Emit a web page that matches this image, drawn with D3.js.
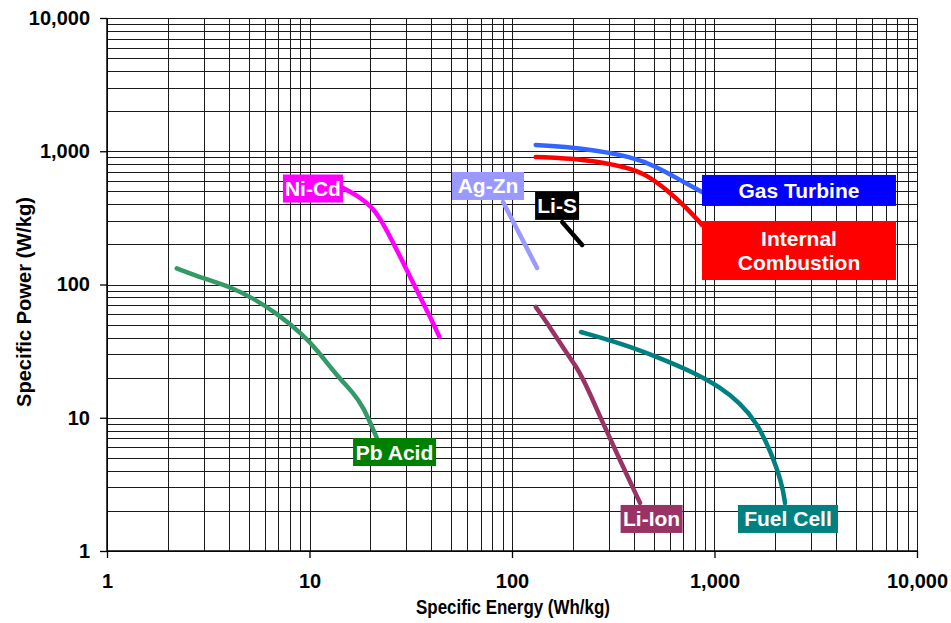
<!DOCTYPE html>
<html>
<head>
<meta charset="utf-8">
<script src="https://cdn.jsdelivr.net/npm/d3@7"></script>
<style>
  body { margin: 0; background: #fff; }
  svg { font-family: Arial, "Liberation Sans", sans-serif; }
  .axis text { font-size: 20px; font-weight: bold; fill: #000; }
  .axis path, .axis line { stroke: #000; stroke-width: 1.3; }
  .grid line { stroke: #1a1a1a; stroke-width: 1; shape-rendering: crispEdges; }
  .axis-title { font-size: 20px; font-weight: bold; fill: #000; }
  .tag text { font-size: 21px; font-weight: bold; fill: #fff; }
</style>
</head>
<body>
<svg width="951" height="623"></svg>
<script>
// **** Data ****

// Pb Acid
var pbAcidEnergy = [2.21, 2.99, 4.05, 5.28, 6.89, 9.32, 10.9, 13.6, 16.5, 18.4, 20.7, 21.9];
var pbAcidPower  = [132, 111, 96.3, 78.7, 60.8, 41.8, 32.2, 20.9, 15.3, 12.1, 8.09, 6.61];

// Ni-Cd
var niCdEnergy = [14.4, 17.1, 20.3, 22.3, 25.0, 29.7, 35.1, 39.4, 43.8];
var niCdPower  = [536, 470, 384, 314, 229, 136, 80.9, 57.3, 40.6];

// Ag-Zn
var agZnEnergy = [90.3, 133];
var agZnPower  = [416, 133];

// Li-S
var liSEnergy = [177, 222];
var liSPower  = [294, 198];

// Gas Turbine
var gasTurbineEnergy = [131, 224, 396, 520, 676, 868];
var gasTurbinePower  = [1114, 1058, 905, 762, 608, 495];

// Internal Combustion
var combustionEnergy = [131, 224, 370, 464, 583, 731, 868];
var combustionPower  = [905, 875, 762, 664, 512, 375, 280];

// Li-Ion
var liIonEnergy = [131, 154, 179, 209, 235, 281, 341, 429];
var liIonPower  = [67.8, 48.0, 33.3, 24.0, 17.0, 9.14, 4.82, 2.29];

// Fuel Cell
var fuelCellEnergy = [219, 341, 538, 783, 1065, 1337, 1622, 1880, 2154, 2230];
var fuelCellPower  = [44.0, 36.4, 28.1, 22.0, 17.0, 12.9, 9.14, 5.73, 3.24, 2.29];

// Tags: text lines and the point (energy, power) each tag is centred on
var tagNames  = ["Pb Acid", "Ni-Cd", "Ag-Zn", "Li-S", "Gas Turbine", "Internal|Combustion", "Li-Ion", "Fuel Cell"];
var tagEnergy = [26.3, 10.4, 76.1, 167, 2613, 2613, 489, 2306];
var tagPower  = [5.53, 525, 549, 389, 508, 180, 1.74, 1.74];

var tickValues = [1, 10, 100, 1000, 10000];

// **** Styles ****
var lineColors = ["#339966", "#ff00ff", "#9999ff", "#000000", "#3366ff", "#ff0000", "#993366", "#008080"];
var tagColors  = ["#008000", "#ff00ff", "#9999ff", "#000000", "#0000ff", "#ff0000", "#993366", "#008080"];
var tagWidths  = [83, 60, 72, 44, 194, 194, 62, 100];
var tagHeights = [28, 28, 28, 28, 31, 59, 28, 28];

var series = [
    [pbAcidEnergy, pbAcidPower],
    [niCdEnergy, niCdPower],
    [agZnEnergy, agZnPower],
    [liSEnergy, liSPower],
    [gasTurbineEnergy, gasTurbinePower],
    [combustionEnergy, combustionPower],
    [liIonEnergy, liIonPower],
    [fuelCellEnergy, fuelCellPower]
].map(function(s, i) {
    return { color: lineColors[i], points: s[0].map(function(e, j) { return { e: e, p: s[1][j] }; }) };
});

// **** Scales ****
var x = d3.scaleLog().domain([1, 10000]).range([107, 917]);
var y = d3.scaleLog().domain([1, 10000]).range([551, 18]);

var svg = d3.select('svg');

// minor + major grid values
var gridValues = [];
[1, 10, 100, 1000].forEach(function(d) {
    for (var k = 1; k < 10; k++) gridValues.push(d * k);
});
gridValues.push(10000);

var grid = svg.append("g").attr("class", "grid");
grid.selectAll("line.v")
    .data(gridValues)
    .enter().append("line")
    .attr("class", "v")
    .attr("x1", d => Math.round(x(d)) + 0.5)
    .attr("x2", d => Math.round(x(d)) + 0.5)
    .attr("y1", y(10000))
    .attr("y2", y(1));
grid.selectAll("line.h")
    .data(gridValues)
    .enter().append("line")
    .attr("class", "h")
    .attr("x1", x(1))
    .attr("x2", x(10000))
    .attr("y1", d => Math.round(y(d)) + 0.5)
    .attr("y2", d => Math.round(y(d)) + 0.5);

// Axes
var xAxis = d3.axisBottom(x).tickValues(tickValues).tickFormat(d3.format(",")).tickSize(7).tickPadding(16);
svg.append("g")
    .attr("class", "x axis")
    .attr("transform", "translate(0," + y(1) + ")")
    .call(xAxis);

var yAxis = d3.axisLeft(y).tickValues(tickValues).tickFormat(d3.format(",")).tickSize(7).tickPadding(10);
svg.append("g")
    .attr("class", "y axis")
    .attr("transform", "translate(" + x(1) + ",0)")
    .call(yAxis);

svg.selectAll(".axis .domain").remove();
svg.append("line").attr("x1", x(1)).attr("x2", x(1)).attr("y1", y(10000)).attr("y2", y(1))
    .attr("stroke", "#000").attr("stroke-width", 1.5);
svg.append("line").attr("x1", x(1)).attr("x2", x(10000)).attr("y1", y(1)).attr("y2", y(1))
    .attr("stroke", "#000").attr("stroke-width", 1.5);

// Axis titles
svg.append("text")
    .attr("class", "axis-title")
    .attr("x", 513)
    .attr("y", 614)
    .attr("text-anchor", "middle")
    .attr("textLength", 194)
    .attr("lengthAdjust", "spacingAndGlyphs")
    .text("Specific Energy (Wh/kg)");

svg.append("text")
    .attr("class", "axis-title")
    .attr("transform", "translate(31,302) rotate(-90)")
    .attr("text-anchor", "middle")
    .attr("textLength", 210)
    .attr("lengthAdjust", "spacingAndGlyphs")
    .text("Specific Power (W/kg)");

// Curves (b-spline keeps them smooth)
var line = d3.line()
    .x(d => x(d.e))
    .y(d => y(d.p))
    .curve(d3.curveBasis);

svg.selectAll("path.curve")
    .data(series)
    .enter().append("path")
    .attr("class", "curve")
    .attr("d", d => line(d.points))
    .attr("fill", "none")
    .attr("stroke", d => d.color)
    .attr("stroke-width", 4.5)
    .attr("stroke-linecap", "round")
    .attr("stroke-linejoin", "round");

// Tags
var tags = svg.selectAll("g.tag")
    .data(tagNames)
    .enter().append("g")
    .attr("class", "tag")
    .attr("transform", (d, i) => "translate(" + x(tagEnergy[i]) + "," + y(tagPower[i]) + ")");

tags.append("rect")
    .attr("x", (d, i) => -tagWidths[i] / 2)
    .attr("y", (d, i) => -tagHeights[i] / 2)
    .attr("width", (d, i) => tagWidths[i])
    .attr("height", (d, i) => tagHeights[i])
    .attr("fill", (d, i) => tagColors[i]);

tags.each(function(d) {
    var lines = d.split("|");
    var t = d3.select(this).append("text").attr("text-anchor", "middle");
    lines.forEach(function(s, k) {
        t.append("tspan")
            .attr("x", 0)
            .attr("y", (k - (lines.length - 1) / 2) * 24 + 7.5)
            .text(s);
    });
});
</script>
</body>
</html>
